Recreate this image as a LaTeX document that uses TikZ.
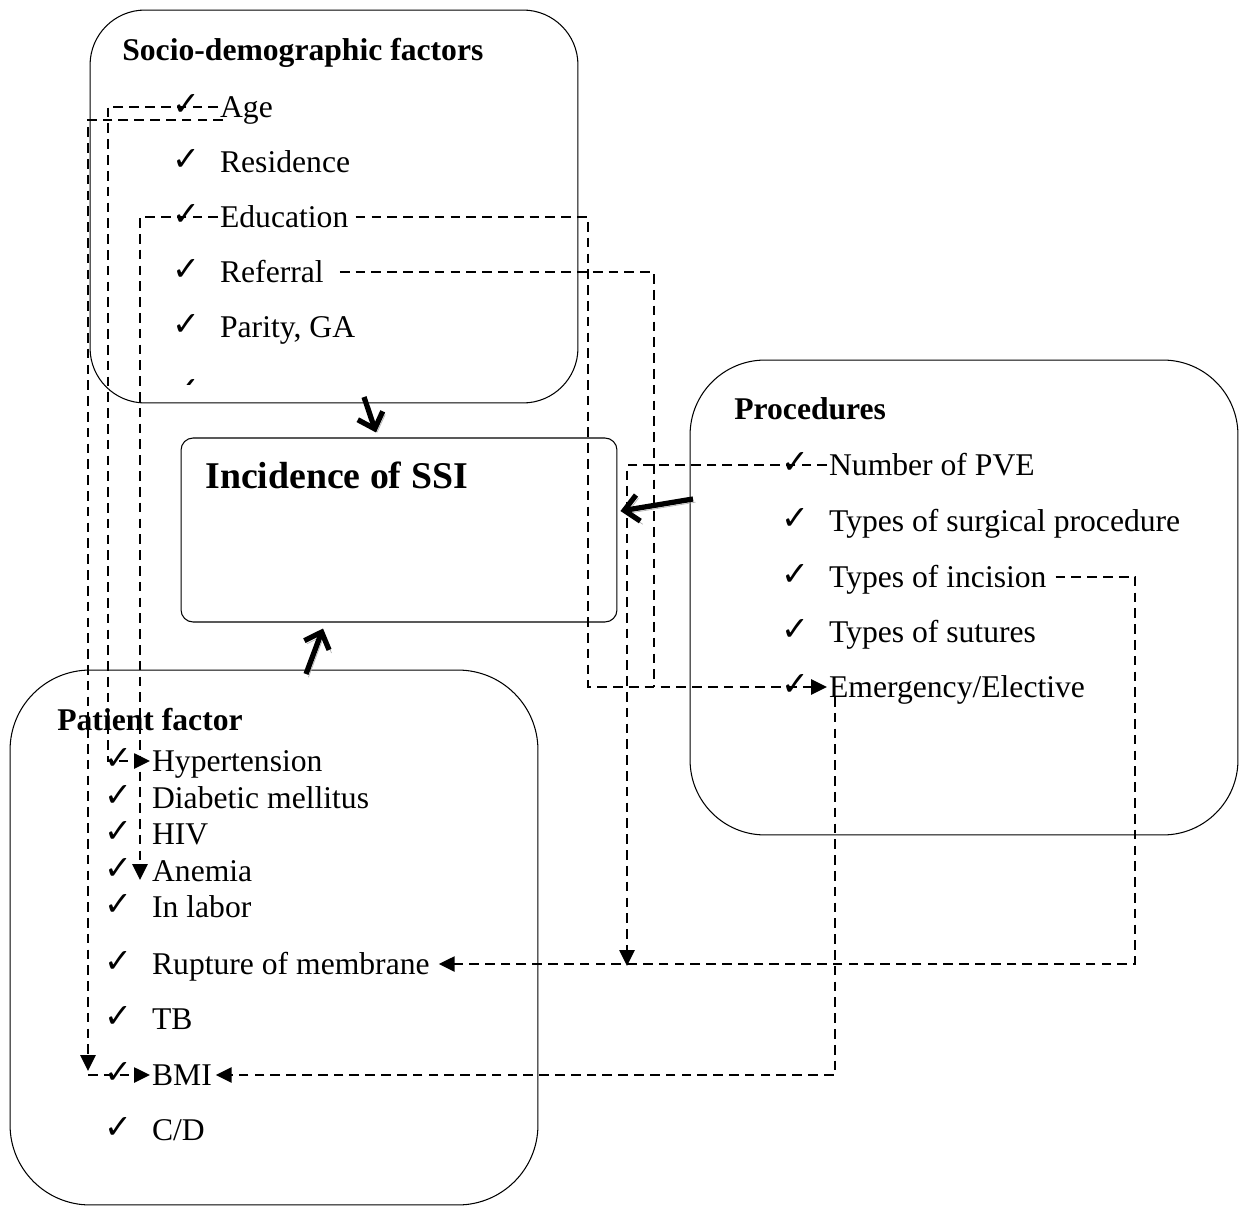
\documentclass[tikz,border=0pt]{standalone}
\usepackage{fontspec}
\setmainfont{Liberation Serif}
\newfontfamily\symfont{DejaVu Sans}
\usetikzlibrary{
  arrows.meta,
  positioning,
  calc
}

\begin{document}
\begin{tikzpicture}[
    x=0.02cm, y=-0.02cm,
    font=\fontsize{18}{21}\selectfont,
    factorbox/.style={
        draw,
        rectangle,
        line width=0.6pt,
        inner sep=0pt
    },
    heading/.style={anchor=base west, inner sep=0pt, font=\fontsize{18}{21}\selectfont\bfseries},
    item/.style={anchor=west, inner sep=1pt, text height=14pt, text depth=2pt},
    tick/.style={anchor=west, inner sep=0pt, font=\symfont\fontsize{19}{21}\selectfont},
    link/.style={dash pattern=on 5.5pt off 3.5pt, line width=1.3pt, -{Triangle[length=9pt,width=8.5pt]}},
    plainlink/.style={dash pattern=on 5.5pt off 3.5pt, line width=1.3pt},
    bigarrow/.style={
        line width=3pt,
        -{Straight Barb[length=8pt,width=15pt]},
        preaction={draw=gray!60, transform canvas={shift={(1.4pt,-1.8pt)}}}
    }
]
\useasboundingbox (0,0) rectangle (1239,1216);

% ----------------------------------------------------------
% BOXES
% ----------------------------------------------------------

\node[factorbox, rounded corners=1.1cm, minimum width=9.76cm, minimum height=7.86cm] (socio) at (334,206.5) {};
\node[factorbox, rounded corners=0.24cm, minimum width=8.72cm, minimum height=3.68cm] (ssi) at (399,530) {};
\node[factorbox, rounded corners=1.5cm, minimum width=10.96cm, minimum height=9.5cm] (proc) at (964,597.5) {};
\node[factorbox, rounded corners=1.6cm, minimum width=10.56cm, minimum height=10.7cm] (patient) at (274,937.5) {};

% ----------------------------------------------------------
% SOCIO-DEMOGRAPHIC FACTORS
% ----------------------------------------------------------

\node[heading] (sociohead) at (122,61) {Socio-demographic factors};

\node[tick] (tickage) at (172,105) {✓};
\node[tick] (tickres) at (172,160) {✓};
\node[tick] (tickedu) at (172,215) {✓};
\node[tick] (tickref) at (172,270) {✓};
\node[tick] (tickpar) at (172,325) {✓};
\begin{scope}
  \clip (160,360) rectangle (210,384);
  \node[tick] (tickmore) at (172,390) {✓};
\end{scope}

\node[item] (age) at (218,107) {Age};
\node[item] (residence) at (218,162) {Residence};
\node[item] (education) at (218,217) {Education};
\node[item] (referral) at (218,272) {Referral};
\node[item] (parity) at (218,327) {Parity, GA};

% ----------------------------------------------------------
% INCIDENCE OF SSI
% ----------------------------------------------------------

\node[heading, font=\fontsize{21.5}{25}\selectfont\bfseries] (ssihead) at (205,488) {Incidence of SSI};

% ----------------------------------------------------------
% PROCEDURES
% ----------------------------------------------------------

\node[heading] (prochead) at (734,419) {Procedures};

\node[tick] (tickpve) at (781,463) {✓};
\node[tick] (ticksurg) at (781,519) {✓};
\node[tick] (tickinc) at (781,575) {✓};
\node[tick] (ticksut) at (781,630) {✓};
\node[tick] (tickemg) at (781,685) {✓};

\node[item] (pve) at (827,465) {Number of PVE};
\node[item] (surgtype) at (827,521) {Types of surgical procedure};
\node[item] (incision) at (827,577) {Types of incision};
\node[item] (sutures) at (827,632) {Types of sutures};
\node[item] (emergency) at (827,687) {Emergency/Elective};

% ----------------------------------------------------------
% PATIENT FACTOR
% ----------------------------------------------------------

\node[heading] (patienthead) at (57,730) {Patient factor};

\node[tick] (tickhyp) at (104,759) {✓};
\node[tick] (tickdia) at (104,796) {✓};
\node[tick] (tickhiv) at (104,832) {✓};
\node[tick] (tickane) at (104,869) {✓};
\node[tick] (ticklab) at (104,905) {✓};
\node[tick] (tickrup) at (104,962) {✓};
\node[tick] (ticktb) at (104,1017) {✓};
\node[tick] (tickbmi) at (104,1073) {✓};
\node[tick] (tickcd) at (104,1128) {✓};

\node[item] (hyper) at (150,761) {Hypertension};
\node[item] (diabetes) at (150,798) {Diabetic mellitus};
\node[item] (hiv) at (150,834) {HIV};
\node[item] (anemia) at (150,871) {Anemia};
\node[item] (labor) at (150,907) {In labor};
\node[item] (rupture) at (150,964) {Rupture of membrane};
\node[item] (tb) at (150,1019) {TB};
\node[item] (bmi) at (150,1075) {BMI};
\node[item] (cd) at (150,1130) {C/D};

% ----------------------------------------------------------
% DASHED LINKS
% ----------------------------------------------------------

\coordinate (agebend) at (108,761);
\coordinate (agelow) at (223,120);
\coordinate (bmibend) at (88,1071);
\coordinate (edubend) at (140,880);
\coordinate (eduright) at (588,0);
\coordinate (refright) at (654,0);
\coordinate (pvebend) at (627,966);
\coordinate (incright) at (1135,0);
\coordinate (emgdown) at (835,697);

\draw[link] (age.west) -| (agebend) -- (hyper.west);
\draw[link] (agelow) -| (bmibend);
\draw[link] (bmibend |- bmi.west) -- (bmi.west);

\draw[link] (education.west) -| (edubend);
\draw[link] ([xshift=3pt]education.east) -| (eduright |- emergency.west) -- (emergency.west);
\draw[plainlink] ([xshift=8pt]referral.east) -| (refright |- emergency.west);

\draw[link] (pve.west) -| (pvebend);
\draw[link] ([xshift=4pt]incision.east) -| (incright |- rupture.east) -- ([xshift=4pt]rupture.east);
\draw[link] (emgdown) |- ([xshift=1pt]bmi.east);

% ----------------------------------------------------------
% MAIN ARROWS
% ----------------------------------------------------------

\coordinate (sociofoot) at (364,397);
\coordinate (patienttop) at (306,674);
\coordinate (procside) at (693,499);

\draw[bigarrow] (sociofoot) -- ($(ssi.north)+(-23,-5)$);
\draw[bigarrow] (patienttop) -- ($(ssi.south)+(-76,6)$);
\draw[bigarrow] (procside) -- ($(ssi.east)+(3,-19)$);

\end{tikzpicture}
\end{document}
